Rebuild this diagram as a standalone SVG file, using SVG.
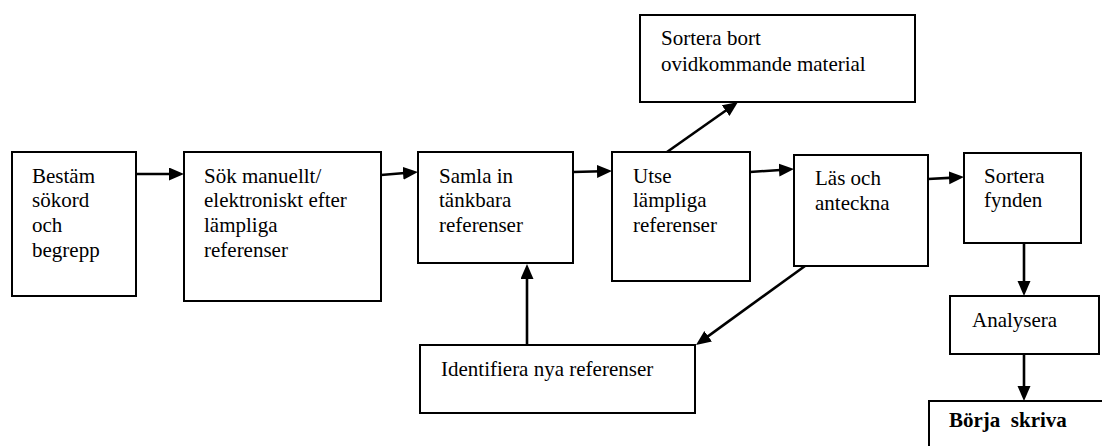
<svg xmlns="http://www.w3.org/2000/svg" width="1102" height="446" viewBox="0 0 1102 446">
  <defs>
    <marker id="arrow" markerUnits="userSpaceOnUse" markerWidth="16" markerHeight="14" refX="5" refY="6.5" orient="auto">
      <path d="M0,0 L15,6.5 L0,13 Z" fill="#000"/>
    </marker>
    <style>
      .box { fill: #fff; stroke: #000; stroke-width: 2; }
      .lbl { font-family: "Liberation Serif", "Times New Roman", serif; font-size: 21px; fill: #000; }
      .bold { font-weight: bold; white-space: pre; }
      .conn { fill: none; stroke: #000; stroke-width: 2.6; marker-end: url(#arrow); }
    </style>
  </defs>
  <rect width="1102" height="446" fill="#fff"/>

  <g id="connectors">
    <line class="conn" x1="136" y1="174" x2="174" y2="174"/>
    <line class="conn" x1="381" y1="175" x2="408" y2="172.8"/>
    <line class="conn" x1="573" y1="172" x2="602" y2="171.3"/>
    <line class="conn" x1="750" y1="172" x2="784" y2="169.7"/>
    <line class="conn" x1="928" y1="179" x2="954" y2="177.6"/>
    <line class="conn" x1="667" y1="152" x2="729.8" y2="107.8"/>
    <line class="conn" x1="805" y1="266" x2="704.1" y2="339.1"/>
    <line class="conn" x1="527" y1="344" x2="527" y2="274"/>
    <line class="conn" x1="1024" y1="243" x2="1024" y2="286"/>
    <line class="conn" x1="1024" y1="354" x2="1024" y2="391"/>
  </g>

  <g id="bestam">
    <rect class="box" x="12" y="152" width="124" height="144"/>
    <text class="lbl" x="32" y="183">Bestäm</text>
    <text class="lbl" x="32" y="207">sökord</text>
    <text class="lbl" x="32" y="232">och</text>
    <text class="lbl" x="32" y="257">begrepp</text>
  </g>

  <g id="sok">
    <rect class="box" x="184" y="152" width="197" height="149"/>
    <text class="lbl" x="204" y="183">Sök manuellt/</text>
    <text class="lbl" x="204" y="207">elektroniskt efter</text>
    <text class="lbl" x="204" y="232">lämpliga</text>
    <text class="lbl" x="204" y="257">referenser</text>
  </g>

  <g id="samla">
    <rect class="box" x="418" y="152" width="155" height="111"/>
    <text class="lbl" x="439" y="183">Samla in</text>
    <text class="lbl" x="439" y="207">tänkbara</text>
    <text class="lbl" x="439" y="232">referenser</text>
  </g>

  <g id="utse">
    <rect class="box" x="612" y="152" width="138" height="129"/>
    <text class="lbl" x="633" y="183">Utse</text>
    <text class="lbl" x="633" y="207">lämpliga</text>
    <text class="lbl" x="633" y="232">referenser</text>
  </g>

  <g id="sortera-bort">
    <rect class="box" x="640" y="15" width="275" height="87"/>
    <text class="lbl" x="661" y="45">Sortera bort</text>
    <text class="lbl" x="661" y="71">ovidkommande material</text>
  </g>

  <g id="las">
    <rect class="box" x="794" y="155" width="134" height="111"/>
    <text class="lbl" x="815" y="185">Läs och</text>
    <text class="lbl" x="815" y="210">anteckna</text>
  </g>

  <g id="sortera-fynden">
    <rect class="box" x="964" y="153" width="117" height="90"/>
    <text class="lbl" x="984" y="183">Sortera</text>
    <text class="lbl" x="984" y="207">fynden</text>
  </g>

  <g id="analysera">
    <rect class="box" x="950" y="296" width="149" height="58"/>
    <text class="lbl" x="972" y="327">Analysera</text>
  </g>

  <g id="borja">
    <rect class="box" x="929" y="401" width="190" height="60"/>
    <text class="lbl bold" x="949" y="427" xml:space="preserve">Börja  skriva</text>
  </g>

  <g id="identifiera">
    <rect class="box" x="420" y="345" width="275" height="68"/>
    <text class="lbl" x="441" y="376">Identifiera nya referenser</text>
  </g>
</svg>
